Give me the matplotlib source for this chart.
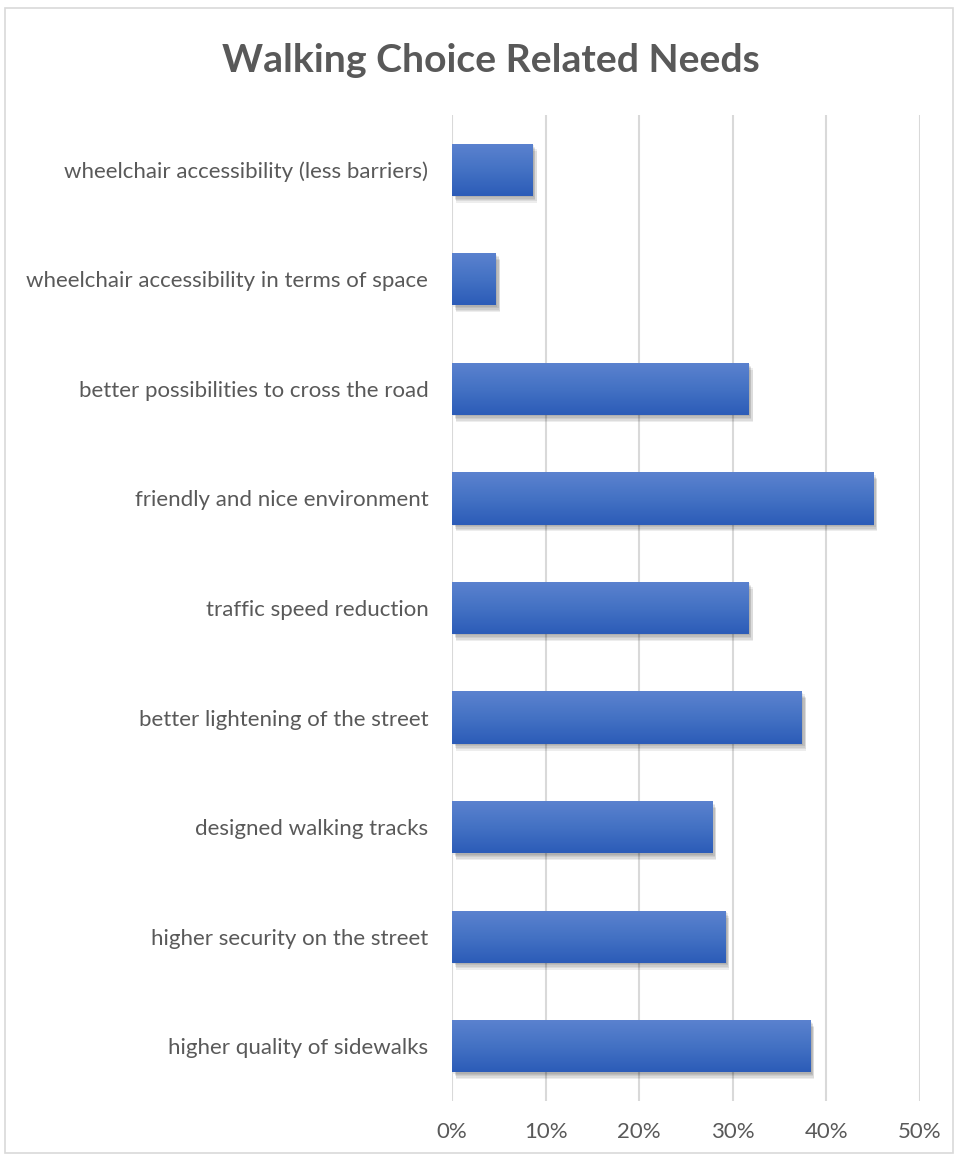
import numpy as np
import matplotlib
matplotlib.use("Agg")
import matplotlib.pyplot as plt
import matplotlib.patheffects as pe
from matplotlib.patches import Rectangle
from matplotlib.ticker import PercentFormatter

plt.rcParams['font.family'] = ['Lato', 'DejaVu Sans']

# survey answers, listed bottom to top as they appear on the chart
needs = [
    "higher quality of sidewalks",
    "higher security on the street",
    "designed walking tracks",
    "better lightening of the street",
    "traffic speed reduction",
    "friendly and nice environment",
    "better possibilities to cross the road",
    "wheelchair accessibility in terms of space",
    "wheelchair accessibility (less barriers)",
]
share = [0.383, 0.292, 0.278, 0.374, 0.317, 0.450, 0.317, 0.047, 0.086]
xticks = [0, 0.1, 0.2, 0.3, 0.4, 0.5]

text_col = "#595959"
grid_col = "#d9d9d9"

fig = plt.figure(figsize=(9.58, 11.56), dpi=100)
# outer chart frame
fig.patches.append(Rectangle((0.005, 0.003), 0.99, 0.99, transform=fig.transFigure,
                             fill=False, edgecolor="#d9d9d9", linewidth=1.2))

ax = fig.add_axes([0.4718, 0.0476, 0.4883, 0.8529])
ypos = np.arange(len(needs))

# soft drop shadow built from a few faint offset copies
shadow = [pe.SimplePatchShadow(offset=(dx, dy), shadow_rgbFace="#000000", alpha=0.07)
          for dx, dy in [(1, -1), (2, -2), (2, -3), (3, -4), (3, -5)]]
bars = ax.barh(ypos, share, height=0.476, color="#4472c4", zorder=3,
               path_effects=shadow + [pe.Normal()])

# vertical gradient on each bar, lighter on top
grad = np.linspace(0, 1, 64).reshape(-1, 1)
cmap = matplotlib.colors.LinearSegmentedColormap.from_list("bar", ["#5b82cf", "#4472c4", "#2c5cb8"])
for b in bars:
    x0, y0, w, h = b.get_x(), b.get_y(), b.get_width(), b.get_height()
    im = ax.imshow(grad, cmap=cmap, extent=(x0, x0 + w, y0, y0 + h), origin="upper",
                   aspect="auto", zorder=4, interpolation="bilinear")
    im.set_clip_path(b)

ax.set_xlim(0, 0.5)
ax.set_ylim(-0.5, len(needs) - 0.5)
ax.set_xticks(xticks)
ax.xaxis.set_major_formatter(PercentFormatter(1.0, decimals=0))
ax.set_yticks(ypos)
ax.set_yticklabels(needs)
ax.grid(axis="x", color=grid_col, linewidth=1.5, zorder=0)
ax.set_axisbelow(True)
for s in ax.spines.values():
    s.set_visible(False)
ax.tick_params(axis="both", length=0, colors=text_col, labelsize=16)
ax.tick_params(axis="y", pad=17)
ax.tick_params(axis="x", pad=15)

fig.text(0.512, 0.948, "Walking Choice Related Needs", ha="center", va="center",
         fontsize=28.2, fontweight="bold", color=text_col)

fig.savefig("out.png", dpi=100)
